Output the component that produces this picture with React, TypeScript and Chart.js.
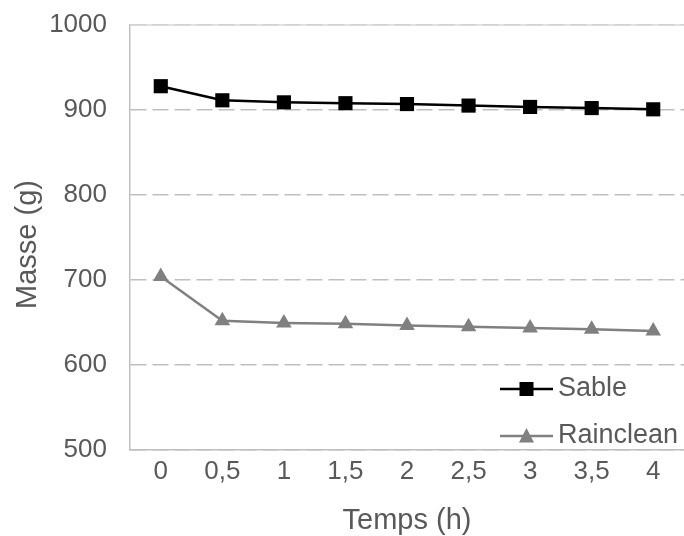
import React, { useEffect, useRef } from 'react';
import { Chart, registerables } from 'chart.js';

Chart.register(...registerables);

const timeLabels = ['0', '0,5', '1', '1,5', '2', '2,5', '3', '3,5', '4'];
const sableMass = [928, 911.4, 909, 908, 907, 905.2, 903.6, 902.3, 900.8];
const raincleanMass = [704, 652, 649.5, 648.5, 646.5, 645, 643.5, 642, 640];
const seriesNames = ['Sable', 'Rainclean'];
const xTitle = 'Temps (h)';
const yTitle = 'Masse (g)';
const yMin = 500;
const yMax = 1000;
const yStep = 100;

const FONT = "'Liberation Sans', Arial, sans-serif";
const TEXT = '#595959';
const GRID = '#bfbfbf';

const topBorderPlugin = {
  id: 'topBorder',
  beforeDatasetsDraw(chart: any) {
    const { ctx, chartArea } = chart;
    ctx.save();
    ctx.strokeStyle = '#d9d9d9';
    ctx.lineWidth = 1.5;
    ctx.beginPath();
    ctx.moveTo(chartArea.left, chartArea.top);
    ctx.lineTo(chartArea.right, chartArea.top);
    ctx.stroke();
    ctx.restore();
  },
};

const yTitlePlugin = {
  id: 'yTitle',
  afterDraw(chart: any) {
    const { ctx, chartArea } = chart;
    ctx.save();
    ctx.translate(28, (chartArea.top + chartArea.bottom) / 2 + 7);
    ctx.rotate(-Math.PI / 2);
    ctx.fillStyle = TEXT;
    ctx.font = `29px ${FONT}`;
    ctx.textAlign = 'center';
    ctx.textBaseline = 'middle';
    ctx.fillText(yTitle, 0, 0);
    ctx.restore();
  },
};

const legendPlugin = {
  id: 'insideLegend',
  afterDraw(chart: any) {
    const { ctx, chartArea } = chart;
    const rows = [chartArea.bottom - 61, chartArea.bottom - 14];
    chart.data.datasets.forEach((ds: any, i: number) => {
      const y = rows[i];
      const x0 = chartArea.right - 184;
      const x1 = chartArea.right - 131;
      const cx = (x0 + x1) / 2;
      ctx.save();
      ctx.strokeStyle = ds.borderColor;
      ctx.lineWidth = ds.borderWidth;
      ctx.beginPath();
      ctx.moveTo(x0, y);
      ctx.lineTo(x1, y);
      ctx.stroke();
      ctx.fillStyle = ds.pointBackgroundColor;
      ctx.beginPath();
      if (ds.pointStyle === 'rect') {
        ctx.rect(cx - 7, y - 7, 14, 14);
      } else {
        ctx.moveTo(cx, y - 8);
        ctx.lineTo(cx + 7.5, y + 6.5);
        ctx.lineTo(cx - 7.5, y + 6.5);
        ctx.closePath();
      }
      ctx.fill();
      ctx.fillStyle = TEXT;
      ctx.font = `27px ${FONT}`;
      ctx.textBaseline = 'middle';
      ctx.textAlign = 'left';
      ctx.fillText(ds.label, chartArea.right - 126, y);
      ctx.restore();
    });
  },
};

export default function App() {
  const ref = useRef<HTMLCanvasElement | null>(null);

  useEffect(() => {
    if (!ref.current) return;
    const chart = new Chart(ref.current, {
      type: 'line',
      data: {
        labels: timeLabels,
        datasets: [
          {
            label: seriesNames[0],
            data: sableMass,
            borderColor: '#000000',
            backgroundColor: '#000000',
            pointBackgroundColor: '#000000',
            pointBorderColor: '#000000',
            borderWidth: 2.5,
            pointStyle: 'rect',
            pointRadius: 10,
            pointBorderWidth: 0,
            tension: 0,
          },
          {
            label: seriesNames[1],
            data: raincleanMass,
            borderColor: '#808080',
            backgroundColor: '#808080',
            pointBackgroundColor: '#808080',
            pointBorderColor: '#808080',
            borderWidth: 2.5,
            pointStyle: 'triangle',
            pointRadius: 9,
            pointBorderWidth: 0,
            tension: 0,
          },
        ],
      },
      options: {
        responsive: false,
        animation: false,
        layout: { autoPadding: false, padding: { top: 25, right: 0, left: 0, bottom: 0 } },
        plugins: {
          legend: { display: false },
          tooltip: { enabled: false },
        },
        scales: {
          x: {
            type: 'category',
            offset: true,
            grid: { display: false, drawTicks: false },
            border: { display: true, color: GRID, width: 1.5 },
            ticks: {
              color: TEXT,
              font: { family: FONT, size: 26 },
              padding: 6,
              maxRotation: 0,
              autoSkip: false,
            },
            title: {
              display: true,
              text: xTitle,
              color: TEXT,
              font: { family: FONT, size: 29, lineHeight: 1.05 },
              padding: 0,
            },
            afterFit(scale: any) {
              scale.height = 86;
              scale.paddingLeft = 0;
              scale.paddingRight = 0;
            },
          },
          y: {
            min: yMin,
            max: yMax,
            ticks: {
              stepSize: yStep,
              color: TEXT,
              font: { family: FONT, size: 26 },
              padding: 23,
              callback: (v: any) => String(v),
            },
            grid: { color: GRID, lineWidth: 1.5, drawTicks: false },
            border: { display: true, color: GRID, width: 1.5, dash: [16, 6] },
            title: { display: false },
            afterFit(scale: any) {
              scale.width = 130;
              scale.paddingTop = 0;
              scale.paddingBottom = 0;
            },
          },
        },
      },
      plugins: [topBorderPlugin, legendPlugin, yTitlePlugin],
    });
    return () => chart.destroy();
  }, []);

  return (
    <div style={{ position: 'absolute', left: 0, top: 0, width: 684, height: 536, background: '#fff' }}>
      <canvas ref={ref} width={684} height={536} />
    </div>
  );
}
